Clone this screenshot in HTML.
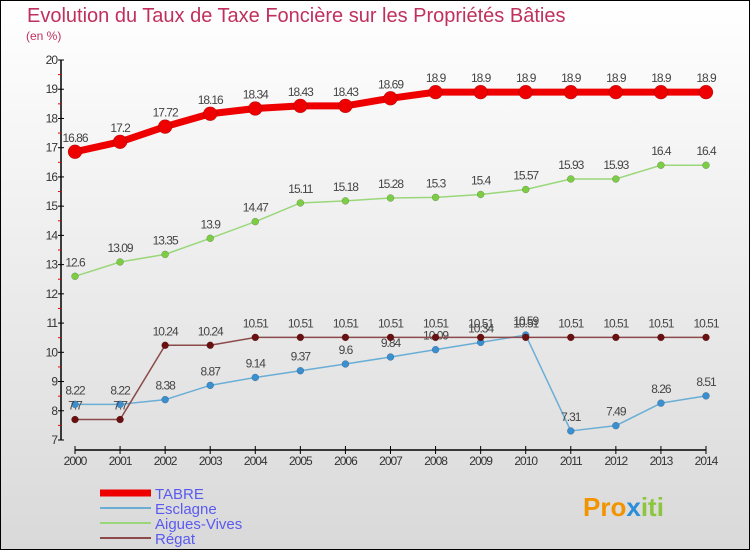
<!DOCTYPE html>
<html><head><meta charset="utf-8"><style>
body{margin:0;width:750px;height:550px;overflow:hidden;font-family:"Liberation Sans",sans-serif}
#c{position:absolute;left:0;top:0;width:748px;height:548px;border:1px solid #000;background:linear-gradient(#fff,#d9d9d9)}
</style></head><body>
<div id="c"></div>
<svg id="s" width="750" height="550" style="position:absolute;left:0;top:0">
<text x="27" y="22" font-size="20" fill="#c0305e">Evolution du Taux de Taxe Foncière sur les Propriétés Bâties</text>
<text x="26" y="40" font-size="12" fill="#c0305e">(en %)</text>
<g id="axes"></g><g id="series"></g><g id="legend"></g>
<text x="583" y="516" font-size="26" font-weight="bold"><tspan fill="#f29400">Pro</tspan><tspan fill="#2a8fd8">x</tspan><tspan fill="#8cc63f">iti</tspan></text>
</svg>
<script>
const years=[2000,2001,2002,2003,2004,2005,2006,2007,2008,2009,2010,2011,2012,2013,2014];
const tabre=[16.86,17.2,17.72,18.16,18.34,18.43,18.43,18.69,18.9,18.9,18.9,18.9,18.9,18.9,18.9];
const esclagne=[8.22,8.22,8.38,8.87,9.14,9.37,9.6,9.84,10.09,10.34,10.59,7.31,7.49,8.26,8.51];
const aigues=[12.6,13.09,13.35,13.9,14.47,15.11,15.18,15.28,15.3,15.4,15.57,15.93,15.93,16.4,16.4];
const regat=[7.7,7.7,10.24,10.24,10.51,10.51,10.51,10.51,10.51,10.51,10.51,10.51,10.51,10.51,10.51];
const yTicks=[7,8,9,10,11,12,13,14,15,16,17,18,19,20];
const NS="http://www.w3.org/2000/svg";
const X=i=>75+i*(706-75)/14, Y=v=>440-(v-7)*(380/13);
function mk(p,t,a){const e=document.createElementNS(NS,t);for(const k in a)e.setAttribute(k,a[k]);p.appendChild(e);return e;}
const ax=document.getElementById('axes');
let l=mk(ax,'line',{x1:61,y1:60,x2:61,y2:440,stroke:'#000','stroke-width':1.5});

l=mk(ax,'line',{x1:75,y1:450,x2:706,y2:450,stroke:'#000','stroke-width':1.5});

yTicks.forEach(v=>{mk(ax,'line',{x1:58,x2:64,y1:Y(v),y2:Y(v),stroke:'#000'});
 if(v<20)mk(ax,'line',{x1:58,x2:61,y1:Y(v+.5),y2:Y(v+.5),stroke:'#e00'});
 const t=mk(ax,'text',{x:57,y:Y(v)+4,'text-anchor':'end','font-size':12,fill:'#333','letter-spacing':'-1'});t.textContent=v;
 });
years.forEach((y,i)=>{mk(ax,'line',{x1:X(i),x2:X(i),y1:446,y2:454,stroke:'#000'});
 const t=mk(ax,'text',{x:X(i),y:465,'text-anchor':'middle','font-size':12,fill:'#333','letter-spacing':'-1'});t.textContent=y;
 });
const sg=document.getElementById('series');
function series(name,vals,col,w,r,dot){
 const g=mk(sg,'g',{});
 mk(g,'polyline',{points:vals.map((v,i)=>X(i)+','+Y(v)).join(' '),fill:'none',stroke:col,'stroke-width':w,'stroke-linejoin':'round'});
 vals.forEach((v,i)=>{const c=mk(g,'circle',{cx:X(i),cy:Y(v),r:r,fill:dot,stroke:'rgba(0,0,0,.3)','stroke-width':.5});
  
  const t=mk(g,'text',{x:X(i),y:Y(v)-10,'text-anchor':'middle','font-size':12,fill:'#444','letter-spacing':'-1'});t.textContent=v;
  });
}
series('aigues-vives',aigues,'#9ad77a',1.5,3.5,'#7ccc44');
series('esclagne',esclagne,'#6aaed6',1.5,3.5,'#3a8fd0');
series('regat',regat,'#8c4a4a',1.5,3.5,'#6a1010');
series('tabre',tabre,'#e00',7,7,'#e00');
const lg=document.getElementById('legend');
[['TABRE','#e00',7],['Esclagne','#6aaed6',2],['Aigues-Vives','#9ad77a',2],['Régat','#8c4a4a',2]].forEach((d,i)=>{
 const y=493+i*15;const g=mk(lg,'g',{});
 mk(g,'line',{x1:100,x2:151,y1:y,y2:y,stroke:d[1],'stroke-width':d[2]});
 const t=mk(g,'text',{x:155,y:y+6,'font-size':15,fill:'#5a5af0'});t.textContent=d[0];});
</script>
</body></html>
